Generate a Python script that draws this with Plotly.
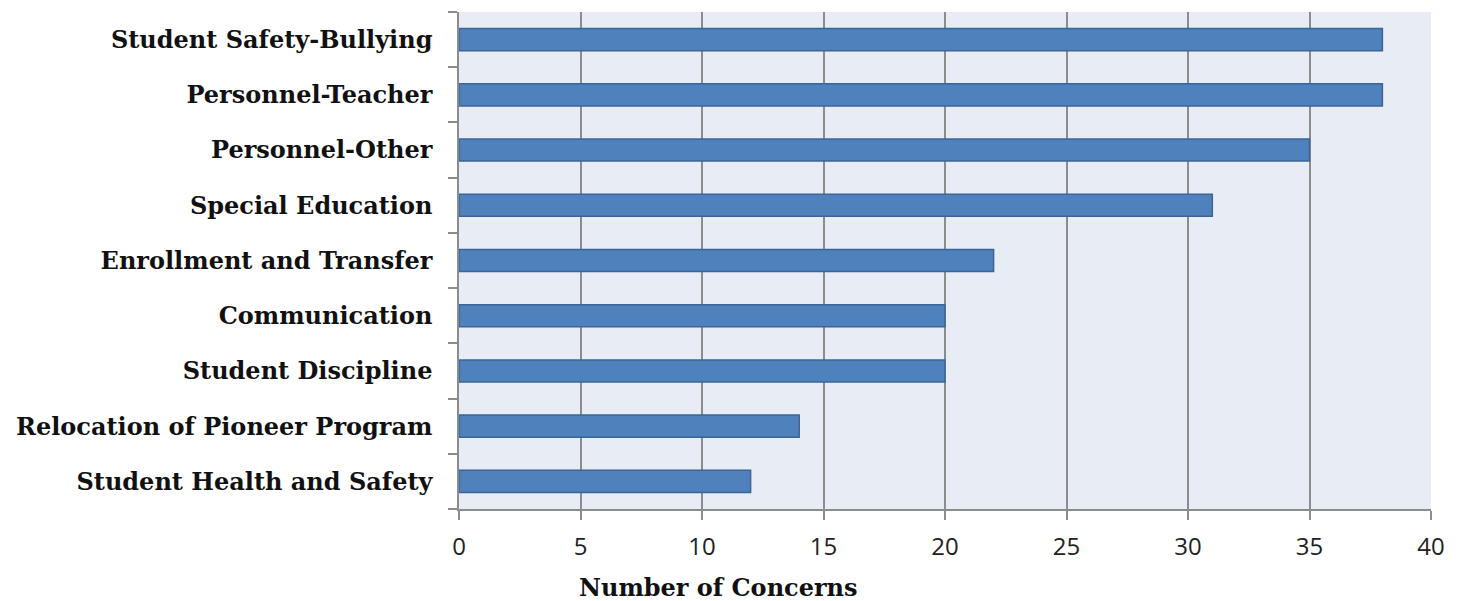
import plotly.graph_objects as go

categories = [
    "Student Safety-Bullying",
    "Personnel-Teacher",
    "Personnel-Other",
    "Special Education",
    "Enrollment and Transfer",
    "Communication",
    "Student Discipline",
    "Relocation of Pioneer Program",
    "Student Health and Safety",
]
values = [38, 38, 35, 31, 22, 20, 20, 14, 12]
x_ticks = [0, 5, 10, 15, 20, 25, 30, 35, 40]
x_title = "Number of Concerns"

fig = go.Figure()
fig.add_trace(go.Bar(
    x=values,
    y=categories,
    orientation="h",
    marker=dict(color="#4F81BD", line=dict(color="#3B6596", width=1.5)),
    width=0.4,
))

fig.add_annotation(
    text="<b>" + x_title + "</b>",
    xref="paper", yref="paper",
    x=0.2665, y=-0.158,
    xanchor="center", yanchor="middle",
    showarrow=False,
    font=dict(family="DejaVu Serif", size=24, color="#111111"),
)

fig.update_layout(
    width=1465, height=601,
    margin=dict(l=459, r=34, t=12, b=92, pad=0),
    paper_bgcolor="white",
    plot_bgcolor="#E8ECF4",
    showlegend=False,
    xaxis=dict(
        range=[0, 40],
        tickvals=x_ticks,
        ticktext=[str(v) for v in x_ticks],
        showgrid=True, gridcolor="#8C8C8C", gridwidth=1.5,
        zeroline=False,
        showline=True, linecolor="#8C8C8C", linewidth=1.5,
        ticks="outside", ticklen=9, tickwidth=1.5, tickcolor="#8C8C8C",
        ticklabelstandoff=6,
        tickfont=dict(family="Open Sans", size=24, color="#222222"),
    ),
    yaxis=dict(
        categoryorder="array",
        categoryarray=categories[::-1],
        showgrid=False,
        zeroline=False,
        showline=True, linecolor="#8C8C8C", linewidth=1.5,
        ticks="outside", ticklen=9, tickwidth=1.5, tickcolor="#8C8C8C",
        tickson="boundaries",
        ticklabelstandoff=20,
        tickfont=dict(family="DejaVu Serif", size=24, color="#111111", weight="bold"),
    ),
)

fig.write_html("out.html")
